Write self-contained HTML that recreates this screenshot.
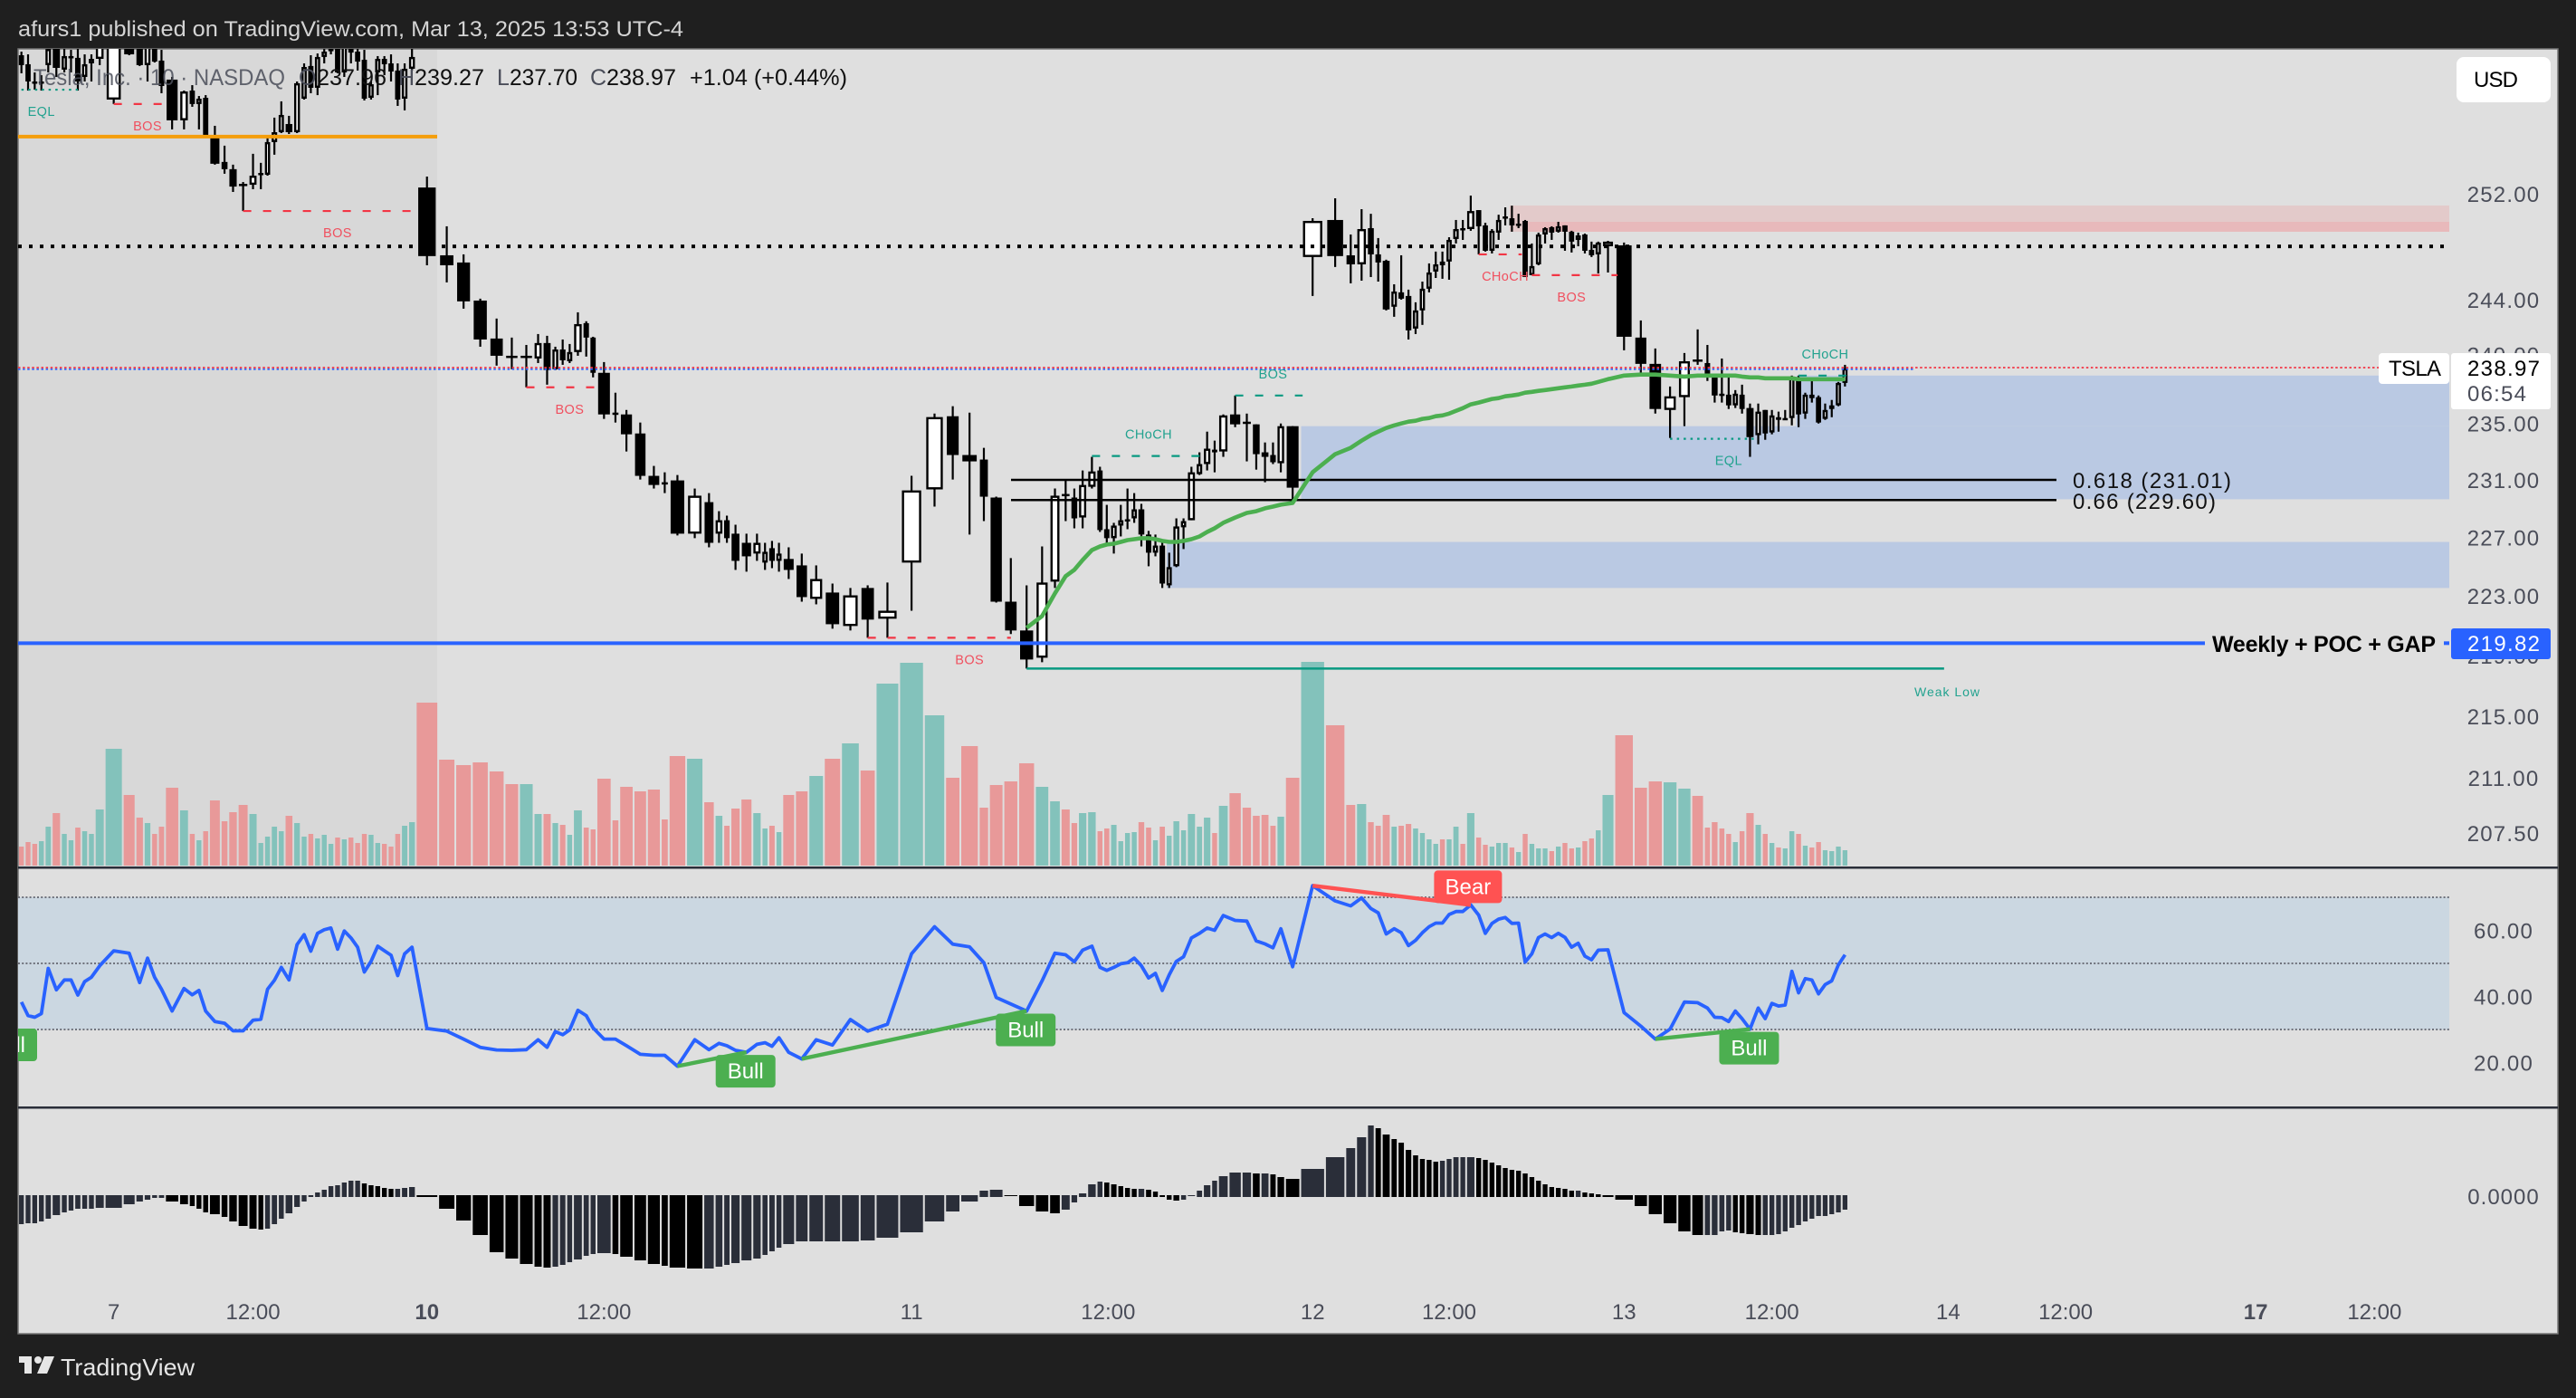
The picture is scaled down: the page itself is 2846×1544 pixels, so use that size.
<!DOCTYPE html>
<html lang="en">
<head>
<meta charset="utf-8">
<title>TSLA chart</title>
<style>
html,body{margin:0;padding:0;background:#1f1f1f;}
svg{display:block;font-family:"Liberation Sans",sans-serif;}
</style>
</head>
<body>
<svg id="chart" xmlns="http://www.w3.org/2000/svg" width="2846" height="1544" viewBox="0 0 2846 1544">
  <defs>
    <clipPath id="clip-main"><rect x="20" y="54" width="2686" height="903"/></clipPath>
    <clipPath id="clip-rsi"><rect x="20" y="959" width="2686" height="263"/></clipPath>
  </defs>
  <rect x="0" y="0" width="2846" height="1544" fill="#1f1f1f"/>
  <rect x="20" y="54" width="2806" height="1419" fill="#dfdfdf" stroke="#777" stroke-width="1.5"/>
  <rect x="21" y="55" width="462" height="902" fill="#d8d8d8"/>
  <g id="volume-layer" clip-path="url(#clip-main)"></g>
  <g id="zone-layer" clip-path="url(#clip-main)"></g>
  <g id="candle-layer" clip-path="url(#clip-main)"></g>
  <g id="level-layer" clip-path="url(#clip-main)"></g>
  <g id="structure-layer" clip-path="url(#clip-main)"></g>
  <g id="rsi-layer" clip-path="url(#clip-rsi)"></g>
  <g id="macd-layer"></g>
  <rect x="20" y="957" width="2806" height="2.5" fill="#2a2e39"/>
  <rect x="20" y="1222" width="2806" height="2.5" fill="#2a2e39"/>
  <g id="axis-layer"></g>

  <text x="2290" y="539" font-size="24" textLength="175" lengthAdjust="spacing" fill="#111">0.618 (231.01)</text>
  <text x="2290" y="562" font-size="24" textLength="158" lengthAdjust="spacing" fill="#111">0.66 (229.60)</text>
  <text x="2115" y="769" font-size="14" textLength="72" fill="#22a28f">Weak Low</text>
  <text x="2444" y="720" font-size="25" font-weight="700" textLength="247" lengthAdjust="spacing" fill="#000">Weekly + POC + GAP</text>

  <rect x="2628" y="390" width="78" height="34" rx="4" fill="#fff"/>
  <text x="2639" y="415" font-size="24" textLength="58" lengthAdjust="spacing" fill="#000">TSLA</text>
  <rect x="2708" y="390" width="110" height="62" rx="3" fill="#fff"/>
  <text x="2726" y="415" font-size="24" textLength="80" lengthAdjust="spacing" fill="#000">238.97</text>
  <text x="2726" y="443" font-size="24" textLength="65" lengthAdjust="spacing" fill="#4a4d59">06:54</text>
  <rect x="2708" y="694" width="110" height="34" rx="3" fill="#2962ff"/>
  <text x="2726" y="719" font-size="24" textLength="80" lengthAdjust="spacing" fill="#fff">219.82</text>
  <rect x="2714" y="63" width="104" height="50" rx="8" fill="#fff"/>
  <text x="2733" y="96" font-size="24" textLength="49" lengthAdjust="spacing" fill="#000">USD</text>

  <text x="20" y="40" font-size="24" textLength="735" lengthAdjust="spacingAndGlyphs" fill="#d4d4d4">afurs1 published on TradingView.com, Mar 13, 2025 13:53 UTC-4</text>

  <g font-size="25">
    <text x="37" y="94" textLength="278" lengthAdjust="spacingAndGlyphs" fill="#4a4d59" fill-opacity="0.85">Tesla, Inc. · 10 · NASDAQ</text>
    <text x="330" y="94" fill="#4a4d59">O</text>
    <text x="350" y="94" textLength="77" lengthAdjust="spacingAndGlyphs" fill="#111">237.96</text>
    <text x="440" y="94" fill="#4a4d59">H</text>
    <text x="458" y="94" textLength="77" lengthAdjust="spacingAndGlyphs" fill="#111">239.27</text>
    <text x="549" y="94" fill="#4a4d59">L</text>
    <text x="563" y="94" textLength="75" lengthAdjust="spacingAndGlyphs" fill="#111">237.70</text>
    <text x="652" y="94" fill="#4a4d59">C</text>
    <text x="670" y="94" textLength="77" lengthAdjust="spacingAndGlyphs" fill="#111">238.97</text>
    <text x="762" y="94" textLength="174" lengthAdjust="spacingAndGlyphs" fill="#111">+1.04 (+0.44%)</text>
  </g>

  <g fill="#e6e6e6">
    <rect x="21" y="1498" width="14" height="7"/>
    <rect x="27" y="1498" width="8" height="19"/>
    <circle cx="42" cy="1502" r="4"/>
    <polygon points="49,1498 60,1498 52,1517 41,1517"/>
    <text x="67" y="1519" font-size="26" textLength="148" lengthAdjust="spacingAndGlyphs">TradingView</text>
  </g>
</svg>

<script>
// ---------- chart data (10-minute TSLA bars) ----------
const opens = [
262.84,262.12,260.75,260.68,262.05,263.63,261.69,262.70,262.63,261.11,
262.19,262.55,259.32,264.36,263.63,262.05,263.63,262.41,260.90,257.69,
260.03,258.97,259.46,256.48,254.45,253.89,252.76,252.69,253.53,253.46,
255.99,256.76,257.40,256.76,259.39,261.98,260.25,262.70,263.20,263.63,
261.47,263.63,263.13,262.48,259.46,261.47,262.55,262.19,261.62,259.39,
261.76,252.48,247.33,246.79,243.95,241.15,239.89,239.76,239.69,240.82,
238.91,240.35,239.49,240.16,242.28,241.22,238.65,235.78,235.65,234.29,
231.29,230.84,230.97,227.26,229.45,227.26,228.19,227.26,226.63,225.89,
225.27,226.26,225.39,225.52,225.08,222.80,223.23,220.97,223.54,221.46,
225.27,230.34,235.52,232.76,232.44,229.77,222.61,220.67,218.85,223.97,
230.02,229.77,228.38,230.52,231.67,227.57,226.95,227.82,228.19,228.32,
228.95,227.20,225.95,226.44,223.72,225.02,227.70,228.19,231.41,232.12,
233.14,233.01,235.65,235.13,234.94,232.95,232.76,232.18,234.81,247.20,
250.00,247.33,246.65,249.38,247.40,246.92,243.49,244.56,244.29,241.88,
243.22,244.83,246.11,246.86,246.86,248.56,249.38,249.31,250.75,249.59,
247.67,249.04,250.20,250.13,249.65,249.93,245.84,246.65,248.90,249.45,
249.11,249.59,249.11,248.49,248.90,247.74,247.40,248.01,248.08,241.22,
239.30,235.97,236.89,239.62,239.36,238.38,237.14,237.07,236.30,237.07,
236.11,234.17,235.97,234.36,235.45,235.26,235.39,238.12,235.71,237.07,
236.89,235.33,236.04,236.30,237.92];
const highs = [
263.13,262.91,261.47,261.25,263.63,264.00,263.63,263.27,263.63,262.91,
262.91,264.00,264.72,264.72,264.36,264.00,264.21,263.27,261.11,260.03,
260.46,259.60,259.67,257.26,255.71,254.24,252.90,255.08,254.38,256.48,
257.90,259.18,258.04,260.75,262.19,262.84,262.98,263.34,263.63,264.00,
264.00,264.00,263.63,263.27,260.75,262.77,262.77,262.91,262.19,262.19,
263.63,253.32,249.52,247.40,244.09,242.62,241.22,240.68,241.48,241.35,
240.55,241.08,240.75,243.08,242.42,241.28,239.43,237.21,235.97,235.07,
231.99,231.54,231.35,230.40,230.08,228.82,228.51,227.88,227.26,227.26,
226.63,226.76,226.63,226.32,225.89,225.08,223.84,223.54,223.72,223.91,
231.29,235.71,236.24,235.78,233.27,229.83,225.58,223.72,226.38,230.40,
231.03,230.40,231.67,232.63,231.93,229.26,228.01,229.26,230.40,230.08,
229.33,227.45,227.20,226.63,225.95,228.32,228.32,231.93,232.95,234.42,
233.78,235.65,237.01,235.71,234.94,233.65,233.65,235.00,234.81,250.13,
251.65,248.90,250.82,250.47,248.63,247.00,245.16,247.33,244.76,243.82,
245.36,246.72,247.61,247.61,248.69,250.00,250.00,251.86,250.75,249.79,
249.31,250.40,250.96,251.09,250.47,250.00,248.22,249.04,249.45,249.52,
249.86,249.59,249.18,249.04,248.97,248.36,248.36,248.42,248.29,242.48,
240.42,237.66,240.09,241.82,240.68,238.45,239.69,238.32,237.40,237.79,
236.43,236.43,235.97,235.97,235.85,235.97,238.45,238.45,237.21,238.12,
237.01,236.43,236.69,237.99,239.23];
const lows = [
261.40,260.03,260.10,260.03,261.47,261.11,261.47,261.47,260.03,260.75,
260.75,262.05,258.97,262.84,261.98,260.75,262.26,259.82,256.98,256.98,
258.75,256.98,256.41,254.24,253.54,252.14,250.68,252.35,252.35,253.39,
255.01,256.69,256.62,256.69,259.32,259.82,259.67,262.19,262.91,261.40,
261.11,262.19,261.62,259.25,259.32,259.67,261.25,260.75,258.82,258.47,
261.62,246.58,245.30,243.35,240.55,239.17,238.91,237.60,239.36,237.79,
238.85,239.23,239.36,239.89,239.83,238.32,235.33,235.07,233.01,231.03,
230.40,230.08,227.14,226.95,226.32,226.63,226.63,224.77,224.65,225.39,
224.77,224.89,224.65,224.15,222.61,222.43,220.79,220.67,220.18,220.18,
222.00,229.14,231.03,227.20,228.13,222.55,220.43,218.13,218.55,223.54,
228.13,227.63,227.63,230.40,227.38,226.63,225.89,227.07,227.57,228.01,
226.38,225.02,225.70,223.54,223.54,224.96,226.20,228.19,231.35,231.67,
231.54,232.63,234.74,232.31,231.73,230.84,232.12,231.54,229.45,244.29,
246.45,245.23,245.43,245.70,245.36,243.22,242.75,244.02,241.08,241.48,
242.15,244.56,245.63,245.57,245.50,248.22,248.49,249.18,247.40,247.61,
247.47,248.49,249.59,249.11,249.38,245.70,245.84,246.58,248.22,248.49,
249.04,247.67,247.54,248.01,247.47,247.20,245.97,246.04,240.29,238.65,
235.71,233.97,234.81,239.23,238.06,236.50,236.50,236.04,236.11,235.71,
232.63,233.52,233.84,234.23,234.42,235.26,234.87,234.74,235.33,236.50,
235.00,235.26,235.45,236.24,237.66];
const closes = [
262.05,260.75,260.61,260.75,263.34,261.83,262.77,262.77,260.75,262.12,
262.55,263.63,264.36,262.91,262.05,263.63,262.33,260.39,257.69,259.96,
258.97,259.39,256.48,254.31,253.89,252.55,252.69,253.39,253.60,255.99,
256.76,258.11,256.76,260.61,261.90,260.25,262.70,263.13,263.34,261.47,
263.63,263.05,262.33,259.39,260.53,262.55,262.12,261.54,259.32,261.76,
262.70,247.27,246.58,243.89,241.08,239.89,239.76,239.89,240.82,238.85,
240.35,239.56,240.16,242.21,241.22,238.65,235.65,235.65,234.23,231.29,
230.65,230.71,227.26,229.90,226.63,228.19,226.95,225.39,225.70,226.63,
226.01,225.39,225.89,224.77,222.92,224.15,221.09,223.04,221.40,222.00,
230.27,235.46,232.76,232.31,229.83,222.61,220.67,218.73,223.91,229.90,
229.90,228.32,230.65,231.60,227.51,226.95,227.82,228.19,228.26,228.95,
227.20,225.95,226.44,223.84,224.96,227.76,228.13,231.54,232.12,233.21,
232.95,235.58,234.94,235.00,232.82,232.63,232.25,234.81,230.46,249.93,
247.27,246.65,249.31,247.40,246.79,243.29,244.62,244.09,241.75,243.22,
244.83,246.04,246.65,246.58,248.49,249.31,249.31,250.68,249.52,247.67,
249.18,250.00,250.27,249.59,249.72,245.70,246.52,248.90,249.38,249.04,
249.52,249.11,248.36,248.83,247.67,247.33,248.29,248.36,241.28,239.30,
236.04,236.95,239.49,239.49,238.32,237.01,237.07,236.30,237.14,236.04,
234.03,235.85,234.29,235.58,235.26,235.39,238.38,235.65,237.07,236.82,
235.07,235.97,236.30,237.92,238.97];
const volumes = [
21,26,24,27,43,58,35,28,42,38,35,62,129,78,53,47,35,43,86,61,
35,28,38,72,49,59,67,57,25,32,43,38,55,47,32,35,30,34,24,31,
29,31,25,35,34,25,24,21,35,44,48,180,117,111,114,104,90,90,57,57,
47,45,34,61,42,40,96,50,87,82,84,51,121,118,70,55,44,63,73,58,
41,44,37,78,82,99,118,135,105,201,224,166,97,132,64,89,93,113,87,71,
62,47,58,59,38,41,45,27,36,37,48,42,28,43,33,49,39,57,43,53,
36,66,80,64,55,56,44,54,97,225,155,67,68,48,44,56,43,44,46,41,
36,29,24,29,29,43,24,58,31,23,21,25,25,20,15,35,24,19,19,16,
21,25,19,20,27,30,39,78,144,86,93,92,85,77,42,48,41,35,26,38,
58,45,35,25,20,19,38,35,22,20,26,17,16,21,17];
const rsiValues = [
38.3,34.2,33.7,34.8,48.5,42,45,45,40.4,44.5,
45.8,49.3,53.8,53.1,44.2,51.6,45.8,42.2,35.6,42.4,
40.5,41.8,35.6,32.4,31.9,29.6,29.6,32.8,33.1,42.2,
44.9,48.8,45,55.7,58.7,53.7,59.1,60.2,60.7,54.3,
59.8,57.7,54.9,47.4,50.6,55.2,53.8,52.5,46.3,52.9,
54.9,30.3,29.5,27.1,24.6,23.8,23.7,23.9,26.9,24.6,
29.4,28.4,29.9,35.8,34.2,30.5,27.1,27.1,25.1,22.5,
22.2,22.2,18.9,26.9,23.9,25.8,25.1,23.7,23.1,25.5,
26,24.9,27.5,23.1,21.1,26.9,25.3,33,29.5,31.6,
52.9,61.1,55.8,55,50.2,39.7,37.7,35.6,44.7,53.1,
52.6,50.5,54,55.2,48.8,47.9,48.8,49.9,50.2,51.6,
49.3,45.6,47,41.8,46.5,50.6,52,57.7,59.1,60.7,
60,64.5,63,62.8,56.8,55.9,54.7,60.5,49,73.5,
68.9,67.4,69.8,66.6,65.3,58.9,60.5,59.3,55.4,57,
59.3,61.1,62.2,62.2,64.8,65.7,65.7,67.7,64.6,59.1,
62.1,63.4,63.9,62.1,62.2,50.4,52.9,57.8,58.9,57.8,
59.1,57.9,54.9,56.1,52.2,51.1,54,54.1,35.1,31,
27.1,30.1,38.3,38.1,36.5,33.7,33.6,32.4,35.6,33.3,
30.1,36.5,33.3,37.9,37.1,37.4,47.6,41.1,45.4,45,
40.8,43.6,44.7,49.5,52.6];
const macdHist = [
-32,-31,-31,-29,-26,-22,-19,-17,-15,-15,-15,-14,-14,-10,-7,-5,-3,-3,-7,-10,
-12,-15,-19,-21,-24,-29,-34,-37,-38,-37,-32,-26,-20,-13,-7,-2,5,8,12,13,
16,18,18,15,13,12,10,9,9,10,11,-2,-15,-28,-44,-63,-70,-76,-79,-80,
-79,-77,-74,-71,-67,-65,-64,-65,-68,-72,-76,-78,-80,-81,-81,-79,-77,-75,-72,-70,
-66,-62,-58,-54,-51,-51,-51,-51,-50,-47,-41,-29,-18,-7,7,8,-1,-12,-18,-20,
-16,-8,4,14,17,16,14,12,10,9,9,8,6,-2,-5,-6,-5,-1,7,13,
18,23,27,27,26,26,25,22,20,31,44,54,66,79,76,69,64,60,52,46,
42,41,39,40,42,44,44,44,43,41,38,35,32,30,29,26,22,18,14,11,
10,9,7,7,5,4,3,2,-5,-12,-21,-31,-40,-44,-44,-44,-40,-39,-41,-42,
-43,-44,-44,-44,-43,-40,-36,-33,-29,-26,-23,-23,-21,-19,-16];
const trendStartBar = 97;
const trendValues = [
220.85,221.64,223.17,224.34,224.77,225.45,226.13,226.38,226.51,226.57,
226.69,226.82,226.88,226.95,226.95,226.88,226.76,226.69,226.69,226.76,
226.88,227.07,227.38,227.63,228.01,228.38,228.70,228.82,229.02,229.14,
229.27,229.39,231.54,232.82,233.27,233.78,234.17,234.42,234.68,234.87,
235.00,235.13,235.20,235.33,235.39,235.52,235.58,235.71,235.91,236.10,
236.37,236.50,236.63,236.76,236.82,236.95,237.01,237.08,237.21,237.27,
237.34,237.40,237.47,237.53,237.60,237.66,237.73,237.79,237.86,237.99,
238.19,238.45,238.52,238.52,238.45,238.38,238.45,238.45,238.45,238.45,
238.45,238.45,238.38,238.32,238.32,238.25,238.25,238.25,238.25,238.25,
238.19,238.19,238.19,238.19,238.19,238.19,238.19,238.19];

// zones: start bar, upper price, lower price
const zoneStartBars = [187,129,114,153,155];
const zoneTopPrices = [238.45,234.81,226.69,251.10,249.86];
const zoneBottomPrices = [234.81,229.65,223.54,249.11,249.11];
const zoneNames = ['demand-zone-upper','demand-zone-middle','demand-zone-lower','supply-zone-outer','supply-zone-inner'];
const zoneColors = ['#bac9e3','#bac9e3','#bac9e3','#e3caca','#e8b9bb'];

// market structure annotations
const structureFromBars = [12,26,57,88,103,122,148,156,171,187,0];
const structureToBars = [17.5,50,65.4,96,118.2,128.5,154.5,167.6,181,194.2,8];
const structurePrices = [258.97,250.68,237.60,220.18,232.69,237.01,247.40,245.84,233.91,238.45,260.10];
const structureLabels = ['BOS','BOS','BOS','BOS','CHoCH','BOS','CHoCH','BOS','EQL','CHoCH','EQL'];
const structureLabelBars = [15,39,62,93,111,126,152,162,177,191,3];
const structureBullish = [false,false,false,false,true,true,false,false,true,true,true];
const structureDotted = [false,false,false,false,false,false,false,false,true,false,true];
const structureAbove = [false,false,false,false,true,true,false,false,false,true,false];

// rsi divergences
const divergenceFromBars = [72,84,170,129];
const divergenceToBars = [78,97,180,147];
const divergenceLabels = ['Bull','Bull','Bull','Bear'];

// axis labels
const priceTicks = [252,244,240,235,231,227,223,219,215,211,207.5];
const rsiTicks = [60,40,20];
const timeTickLabels = ['7','12:00','10','12:00','11','12:00','12','12:00','13','12:00','14','12:00','17','12:00'];
const timeTickBars = [12,27,51,66,90,105.2,129,144,168,183,209.2,226.5,254.5,272];
const timeTickBold = ['10','17'];

// key price levels
const lastPrice = 238.97;
const pocPrice = 219.82;
const dottedLevel = 248.0;
const orangeLevel = 256.42;
const fibPrices = [231.01,229.60];
const weakLowPrice = 218.13;

// ---------- axis functions ----------
const yPrice = p => 214 + 3633 * (Math.log(252) - Math.log(p));
const yVolume = v => 956 - v;
const yRsi = v => 1064 - (v - 50) * 3.65;

function barStep(v) {
  const vs = [0,40,50,60,86,117,180,225];
  const ws = [7.2,7.5,8.6,10.6,15.7,19,24.9,27.5];
  for (let k = 1; k < vs.length; k++) {
    if (v <= vs[k]) return ws[k-1] + (ws[k]-ws[k-1]) * (v-vs[k-1]) / (vs[k]-vs[k-1]);
  }
  return ws[ws.length-1];
}
const rawSteps = volumes.map(barStep);
const rawTotal = rawSteps.reduce((a,b) => a + b, 0);
const stepScale = (2043 - 21) / rawTotal;
const barSteps = rawSteps.map(s => s * stepScale);
const barLefts = [];
barSteps.reduce((acc, s, i) => { barLefts[i] = acc; return acc + s; }, 21);
const barCenters = barLefts.map((l, i) => l + (barSteps[i] - 2) / 2);
function xBar(t) {
  const last = barCenters.length - 1;
  if (t >= last) return barCenters[last] + (t - last) * 7.5;
  const a = Math.floor(t);
  return barCenters[a] + (barCenters[a+1] - barCenters[a]) * (t - a);
}

// ---------- drawing helpers ----------
const NS = 'http://www.w3.org/2000/svg';
function svgEl(tag, attrs, parent) {
  const el = document.createElementNS(NS, tag);
  for (const k in attrs) el.setAttribute(k, attrs[k]);
  parent.appendChild(el);
  return el;
}
const volumeLayer = document.getElementById('volume-layer');
const zoneLayer = document.getElementById('zone-layer');
const candleLayer = document.getElementById('candle-layer');
const levelLayer = document.getElementById('level-layer');
const structureLayer = document.getElementById('structure-layer');
const rsiLayer = document.getElementById('rsi-layer');
const macdLayer = document.getElementById('macd-layer');
const axisLayer = document.getElementById('axis-layer');

// volume bars
volumes.forEach((v, i) => {
  const up = closes[i] >= opens[i];
  const bar = svgEl('rect', {x: barLefts[i], y: yVolume(v), width: barSteps[i] - 2, height: 956 - yVolume(v), fill: up ? '#83c2bb' : '#e89999'}, volumeLayer);
  
  
});

// zones
zoneStartBars.forEach((b, i) => {
  const top = yPrice(zoneTopPrices[i]);
  const zone = svgEl('rect', {x: barLefts[b], y: top, width: 2706 - barLefts[b], height: yPrice(zoneBottomPrices[i]) - top, fill: zoneColors[i]}, zoneLayer);
  
  
});

// candles
opens.forEach((o, i) => {
  const c = closes[i];
  const cx = barCenters[i];
  const wick = svgEl('line', {x1: cx, x2: cx, y1: yPrice(highs[i]), y2: yPrice(lows[i]), stroke: '#000', 'stroke-width': 2.2}, candleLayer);
  
  
  const w = Math.max(5.5, barSteps[i] * 0.78);
  const top = yPrice(Math.max(o, c));
  const h = yPrice(Math.min(o, c)) - top;
  const up = c >= o && h > 3;
  const body = svgEl('rect', up
    ? {x: cx - w/2 + 1.2, y: top + 1.2, width: w - 2.4, height: h - 2.4, fill: '#fff', stroke: '#000', 'stroke-width': 2.4}
    : {x: cx - w/2, y: top, width: w, height: Math.max(h, 2.5), fill: '#000'}, candleLayer);
  
  
});

// levels
const orange = svgEl('line', {x1: 20, x2: 483, y1: yPrice(orangeLevel), y2: yPrice(orangeLevel), stroke: '#f59e0b', 'stroke-width': 4}, levelLayer);


const blackDots = svgEl('line', {x1: 20, x2: 2704, y1: yPrice(dottedLevel), y2: yPrice(dottedLevel), stroke: '#000', 'stroke-width': 4, 'stroke-dasharray': '4 8'}, levelLayer);


const blueDots = svgEl('line', {x1: 20, x2: 2116, y1: yPrice(lastPrice) + 0.9, y2: yPrice(lastPrice) + 0.9, stroke: '#2962ff', 'stroke-width': 1.6, 'stroke-dasharray': '2.5 2.6'}, levelLayer);


const redDots = svgEl('line', {x1: 20, x2: 2628, y1: yPrice(lastPrice) - 0.9, y2: yPrice(lastPrice) - 0.9, stroke: '#f23645', 'stroke-width': 1.8, 'stroke-dasharray': '2.5 2.6'}, levelLayer);


const pocLine = svgEl('line', {x1: 20, x2: 2436, y1: yPrice(pocPrice), y2: yPrice(pocPrice), stroke: '#2962ff', 'stroke-width': 4}, levelLayer);


const pocStub = svgEl('line', {x1: 2700, x2: 2706, y1: yPrice(pocPrice), y2: yPrice(pocPrice), stroke: '#2962ff', 'stroke-width': 4}, levelLayer);


fibPrices.forEach((p) => {
  const fib = svgEl('line', {x1: 1117, x2: 2272, y1: yPrice(p), y2: yPrice(p), stroke: '#000', 'stroke-width': 2.5}, levelLayer);
  
  
});
const weakLow = svgEl('line', {x1: xBar(97), x2: xBar(208.6), y1: yPrice(weakLowPrice), y2: yPrice(weakLowPrice), stroke: '#089981', 'stroke-width': 2.4}, levelLayer);



// trend line over price
const trendPoints = trendValues.map((v, i) => xBar(trendStartBar + i).toFixed(1) + ',' + yPrice(v).toFixed(1)).join(' ');
const trend = svgEl('polyline', {points: trendPoints, fill: 'none', stroke: '#4caf50', 'stroke-width': 4.6, 'stroke-linejoin': 'round'}, levelLayer);



// market structure
structurePrices.forEach((p, i) => {
  const color = structureBullish[i] ? '#089981' : '#f23645';
  const y = yPrice(p);
  const seg = svgEl('line', {x1: xBar(structureFromBars[i]), x2: xBar(structureToBars[i]), y1: y, y2: y, stroke: color, 'stroke-width': 2.2, 'stroke-dasharray': structureDotted[i] ? '2.5 5' : '9 13'}, structureLayer);
  
  
  const label = svgEl('text', {x: xBar(structureLabelBars[i]), y: y + (structureAbove[i] ? -19 : 29), 'text-anchor': 'middle', 'font-size': 14.5, 'letter-spacing': 0.4, fill: structureBullish[i] ? '#22a28f' : '#f0505f'}, structureLayer);
  label.textContent = structureLabels[i];
  
  
});

// rsi pane
const rsiBand = svgEl('rect', {x: 20, y: yRsi(70), width: 2686, height: yRsi(30) - yRsi(70), fill: '#cbd7e1'}, rsiLayer);


[70, 50, 30].forEach((g) => {
  const guide = svgEl('line', {x1: 20, x2: 2706, y1: yRsi(g), y2: yRsi(g), stroke: '#6f727c', 'stroke-width': 2, 'stroke-dasharray': '2 2.2'}, rsiLayer);
  
  
});
const rsiLine = svgEl('polyline', {points: rsiValues.map((v, i) => barCenters[i].toFixed(1) + ',' + yRsi(v).toFixed(1)).join(' '), fill: 'none', stroke: '#2962ff', 'stroke-width': 3.8, 'stroke-linejoin': 'round'}, rsiLayer);


divergenceFromBars.forEach((from, i) => {
  const to = divergenceToBars[i];
  const bull = divergenceLabels[i] === 'Bull';
  const color = bull ? '#4caf50' : '#ff5252';
  const line = svgEl('line', {x1: barCenters[from], y1: yRsi(rsiValues[from]), x2: barCenters[to], y2: yRsi(rsiValues[to]), stroke: color, 'stroke-width': 4.4}, rsiLayer);
  
  
  const w = bull ? 66 : 75;
  const bx = barCenters[to] - w/2 - (bull ? 1 : 3);
  const by = bull ? yRsi(rsiValues[to]) + 3 : yRsi(rsiValues[to]) - 38;
  const box = svgEl('rect', {x: bx, y: by, width: w, height: 36, rx: 4, fill: color}, rsiLayer);
  
  
  const label = svgEl('text', {x: bx + w/2, y: by + 26, 'text-anchor': 'middle', 'font-size': 24, fill: '#fff'}, rsiLayer);
  label.textContent = divergenceLabels[i];
  
  
});
const cutBox = svgEl('rect', {x: -25, y: 1136, width: 66, height: 36, rx: 4, fill: '#4caf50'}, rsiLayer);


const cutLabel = svgEl('text', {x: 8, y: 1162, 'text-anchor': 'middle', 'font-size': 24, fill: '#fff'}, rsiLayer);
cutLabel.textContent = 'Bull';



// macd histogram
macdHist.forEach((v, i) => {
  const rising = i === 0 || v >= macdHist[i-1];
  const base = v >= 0 ? 1322 : 1320;
  const bar = svgEl('rect', {x: barLefts[i], y: v >= 0 ? base - v : base, width: barSteps[i] - 2, height: Math.abs(v), fill: rising ? '#2a2e39' : '#000'}, macdLayer);
  
  
});

// axis labels
priceTicks.forEach((p) => {
  const t = svgEl('text', {x: 2766, y: yPrice(p) + 9, 'text-anchor': 'middle', 'font-size': 24, 'letter-spacing': 1.2, fill: '#4a4d59'}, axisLayer);
  t.textContent = p.toFixed(2);
  
  
});
rsiTicks.forEach((v) => {
  const t = svgEl('text', {x: 2766, y: yRsi(v) + 9, 'text-anchor': 'middle', 'font-size': 24, 'letter-spacing': 1.2, fill: '#4a4d59'}, axisLayer);
  t.textContent = v.toFixed(2);
  
  
});
const macdTick = svgEl('text', {x: 2766, y: 1330, 'text-anchor': 'middle', 'font-size': 24, 'letter-spacing': 1, fill: '#4a4d59'}, axisLayer);
macdTick.textContent = '0.0000';


timeTickLabels.forEach((s, i) => {
  const bold = timeTickBold.indexOf(s) >= 0;
  const t = svgEl('text', {x: xBar(timeTickBars[i]), y: 1457, 'text-anchor': 'middle', 'font-size': 24, 'font-weight': bold ? 700 : 400, fill: '#4a4d59'}, axisLayer);
  t.textContent = s;
  
  
});
</script>
</body>
</html>
